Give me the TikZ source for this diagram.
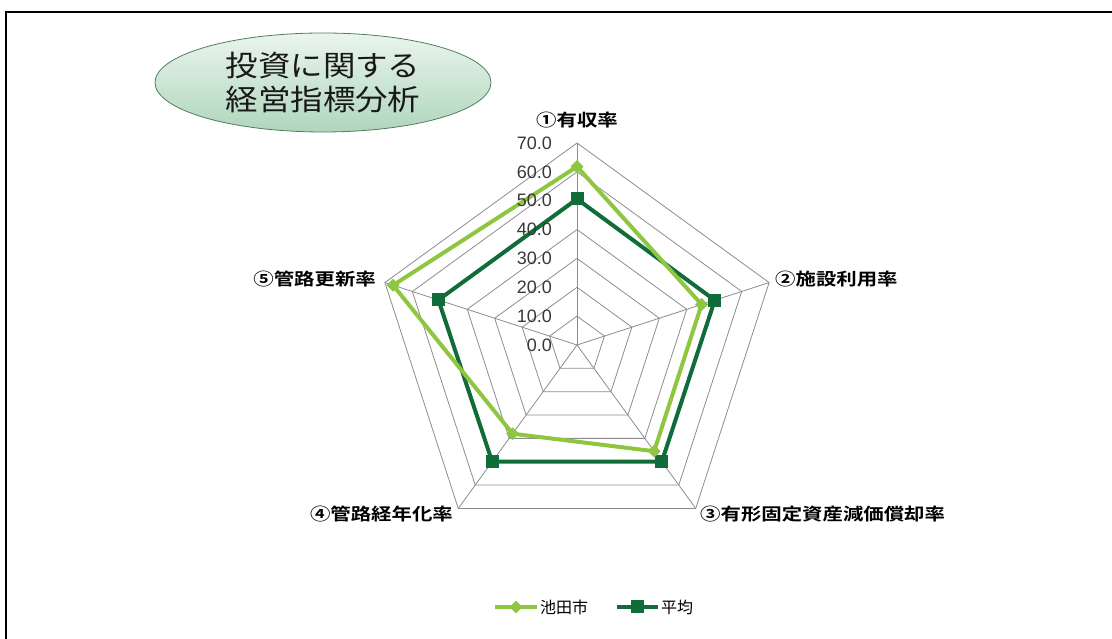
\documentclass[tikz,border=0pt]{standalone}
\usepackage{fontspec}
\setmainfont{Liberation Sans}
\newfontfamily\jptitle[FakeStretch=1.12]{Noto Sans CJK JP}
\newfontfamily\jplabel[FakeStretch=1.2]{Noto Sans CJK JP Bold}
\newfontfamily\jplegend{Noto Sans CJK JP}
\usetikzlibrary{shapes.geometric}
\definecolor{ikeda}{RGB}{142,198,63}
\definecolor{heikin}{RGB}{16,108,56}
\definecolor{gridgray}{RGB}{140,140,140}
\definecolor{pilltop}{RGB}{234,245,237}
\definecolor{pillbot}{RGB}{176,214,188}
\definecolor{pillrim}{RGB}{80,125,95}
\def\u{2.8857}
\def\ring#1{\draw[gridgray, line width=0.8] (90:#1) -- (18:#1) -- (-54:#1) -- (-126:#1) -- (162:#1) -- cycle;}

\tikzset{
  dia/.style={diamond, fill=ikeda, inner sep=0pt, minimum size=13pt},
  sq/.style={rectangle, fill=heikin, inner sep=0pt, minimum size=13pt},
  catlabel/.style={font=\jplabel\fontsize{17}{20}\selectfont, text=black, inner sep=0pt},
  ticklabel/.style={font=\fontsize{18}{20}\selectfont, text=black!78, inner sep=0pt, anchor=east},
}

\begin{document}
\begin{tikzpicture}[x=1pt, y=1pt]
			%%%%% START %%%%%
			\useasboundingbox (0,0) rectangle (1112,639);
			
			\draw[line width=2.5] (6,0) -- (6,627) -- (1112,627);
			
			\node[ellipse, draw=pillrim, line width=0.8, top color=pilltop, bottom color=pillbot,
			      minimum width=336pt, minimum height=99pt, inner sep=0pt, align=left,
			      font=\jptitle\fontsize{29}{34}\selectfont, text=black!90] (title) at (323,556.5)
			      {投資に関する\\経営指標分析};
			
			\begin{scope}[shift={(577,294)}]
				\foreach \k [evaluate=\k as \rr using \k*202/7] in {1,...,7} {\ring{\rr}}
				\foreach \a in {90,18,-54,-126,162} \draw[gridgray, line width=0.8] (0,0) -- (\a:202);
				
				\coordinate (h1) at (90:{50.6*\u});
				\coordinate (h2) at (18:{50.2*\u});
				\coordinate (h3) at (-54:{50*\u});
				\coordinate (h4) at (-126:{50*\u});
				\coordinate (h5) at (162:{50.5*\u});
				
				\coordinate (i1) at (90:{61.8*\u});
				\coordinate (i2) at (18:{45.4*\u});
				\coordinate (i3) at (-54:{45.5*\u});
				\coordinate (i4) at (-126:{38*\u});
				\coordinate (i5) at (162:{67*\u});
				
				\draw[heikin, line width=4, line join=round] (h1) -- (h2) -- (h3) -- (h4) -- (h5) -- cycle;
				\foreach \p in {1,...,5} \node[sq] (hm\p) at (h\p) {};
				\draw[ikeda, line width=4, line join=round] (i1) -- (i2) -- (i3) -- (i4) -- (i5) -- cycle;
				\foreach \p in {1,...,5} \node[dia] (im\p) at (i\p) {};
				
				\foreach \k/\v in {0/0.0,1/10.0,2/20.0,3/30.0,4/40.0,5/50.0,6/60.0,7/70.0}
					\node[ticklabel] (t\k) at (-25,{\k*202/7}) {\v};
			\end{scope}
			
			\node[catlabel] (cat1) at (577,519) {①有収率};
			\node[catlabel, anchor=west] (cat2) at (775,360) {②施設利用率};
			\node[catlabel, anchor=west] (cat3) at (700,125) {③有形固定資産減価償却率};
			\node[catlabel, anchor=east] (cat4) at (453,125) {④管路経年化率};
			\node[catlabel, anchor=east] (cat5) at (376,360) {⑤管路更新率};
			
			% legend
			\coordinate (lia) at (495,32);
			\coordinate (lib) at (537,32);
			\draw[ikeda, line width=4] (lia) -- (lib);
			\node[dia] (lim) at (516,32) {};
			\node[anchor=west, inner sep=0pt, font=\jplegend\fontsize{16}{18}\selectfont] (lit) at (540,32) {池田市};
			\coordinate (lha) at (617,32);
			\coordinate (lhb) at (658,32);
			\draw[heikin, line width=4] (lha) -- (lhb);
			\node[sq] (lhm) at (637,32) {};
			\node[anchor=west, inner sep=0pt, font=\jplegend\fontsize{16}{18}\selectfont] (lht) at (661,32) {平均};
			
			%%%%% END %%%%%
		\end{tikzpicture}
\end{document}
